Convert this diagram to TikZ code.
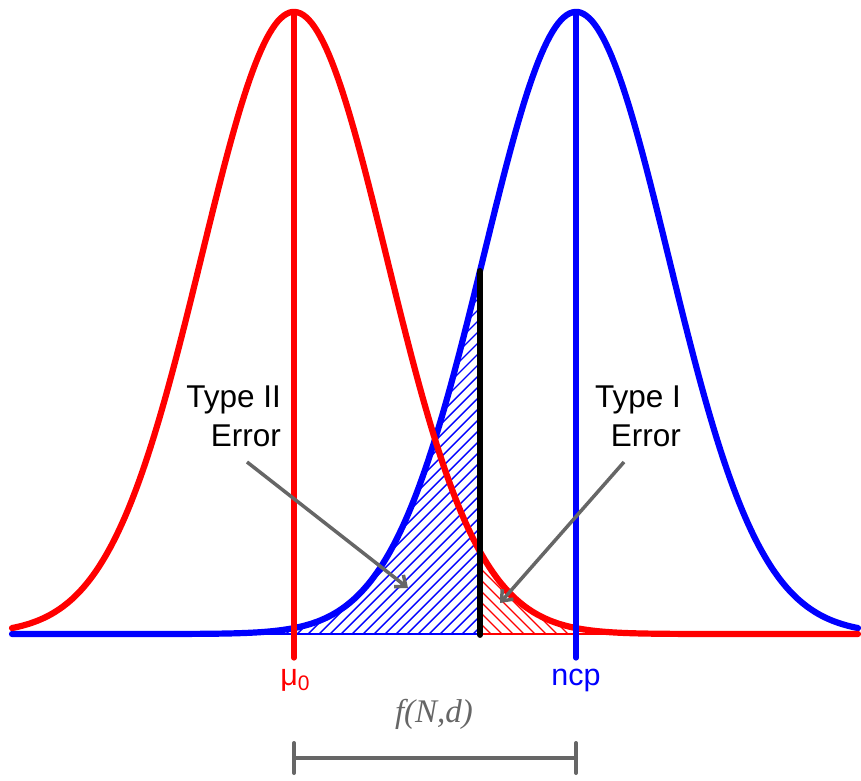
\documentclass[tikz,border=0pt]{standalone}
\usepackage{fontspec}
\setmainfont{Liberation Sans}
\newfontfamily\serifit{Liberation Serif}
\usetikzlibrary{arrows.meta}
\definecolor{arrowgray}{HTML}{666666}
\tikzset{declare function={
  gb(\x)=634-622*exp(-0.5*((\x-576)/92.5)^2);
  gr(\x)=634-622*exp(-0.5*((\x-294)/92.5)^2);
}}
\begin{document}
\begin{tikzpicture}[x=1bp,y=-1bp,
  curve/.style={line width=6.2bp, line cap=round},
  vline/.style={line width=5.2bp, line cap=round},
  hatch/.style={line width=1.4bp},
  lab/.style={font=\fontsize{31.5bp}{40bp}\selectfont, inner sep=0pt},
  pointer/.style={draw=arrowgray, line width=3.5bp, -{Straight Barb[length=9bp,width=15bp]}},
  ]
\useasboundingbox (0,0) rectangle (861,781);
% hatched regions
\begin{scope}
  \clip (12,634) -- plot[domain=12:480,samples=150] (\x,{gb(\x)}) -- (480,634) -- cycle;
  \foreach \a in {0,11,...,500} \draw[blue,hatch] (\a,634) -- ++(400,-400);
\end{scope}
\begin{scope}
  \clip (480,634) -- plot[domain=480:858,samples=150] (\x,{gr(\x)}) -- (858,634) -- cycle;
  \foreach \a in {480,491,...,900} \draw[red,hatch] (\a,634) -- ++(-400,-400);
\end{scope}
\draw[blue,hatch] (12,634) -- (480,634);
\draw[red,hatch] (480,634) -- (858,634);
% curves
\draw[blue,curve] plot[domain=12:858,samples=300] (\x,{gb(\x)});
\draw[red,curve] plot[domain=12:858,samples=300] (\x,{gr(\x)});
% vertical lines
\draw[red,vline] (294,12) -- (294,658);
\draw[blue,vline] (576,12) -- (576,658);
\draw[black,line width=5.8bp,line cap=round] (480,{gb(480)}) -- (480,635);
% labels
\node[lab, anchor=base east] (t2a) at (281,407) {Type II};
\node[lab, anchor=base east] (t2b) at (281,446) {Error};
\node[lab, anchor=base east] (t1a) at (681,407) {Type I};
\node[lab, anchor=base east] (t1b) at (681,446) {Error};
\coordinate (p2s) at (247,462);
\coordinate (p2e) at (408,588);
\coordinate (p1s) at (624,462);
\coordinate (p1e) at (500,603);
\draw[pointer] (p2s) -- (p2e);
\draw[pointer] (p1s) -- (p1e);
\node[inner sep=0pt, text=red, anchor=base, font=\fontsize{30.5bp}{36bp}\selectfont] (mu) at (295,685) {μ\raisebox{-5bp}{\fontsize{21bp}{21bp}\selectfont 0}};
\node[inner sep=0pt, text=blue, anchor=base, font=\fontsize{30.5bp}{36bp}\selectfont] (ncp) at (576,685) {ncp};
\node[inner sep=0pt, text=arrowgray, anchor=base, font=\serifit\itshape\fontsize{33bp}{33bp}\selectfont] (fnd) at (434,722) {f(N,d)};
% bracket
\coordinate (bl) at (294,758);
\coordinate (br) at (576,758);
\draw[arrowgray, line width=4bp, line cap=round] (bl) -- (br);
\draw[arrowgray, line width=4bp, line cap=round] (294,743) -- (294,773);
\draw[arrowgray, line width=4bp, line cap=round] (576,743) -- (576,773);
\end{tikzpicture}
\end{document}
